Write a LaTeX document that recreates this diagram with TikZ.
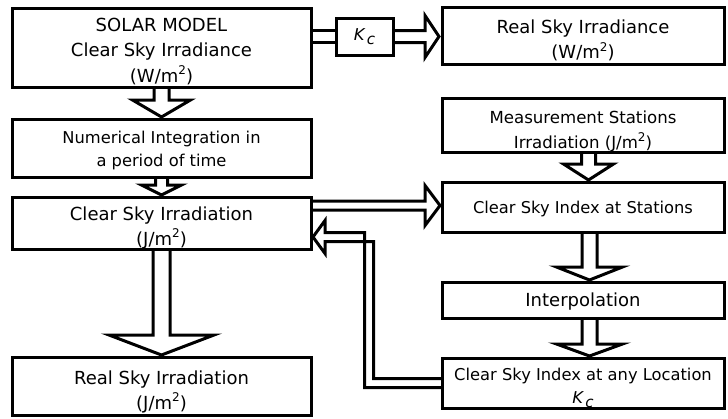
\documentclass[tikz,border=0pt]{standalone}
\usepackage{fontspec}
\setmainfont{DejaVu Sans}
\usetikzlibrary{calc}
\newcommand\kcsym{\textit{K}\kern1.2pt\raisebox{-0.25em}{\fontsize{15}{15}\selectfont\itshape c}}
\newcommand\sqm{m\raisebox{0.42em}{\fontsize{12}{12}\selectfont 2}}
\newcommand\darrow[6]{% from, to, xoff, shaft half, head half, head length
  \draw[harrow] ($(#1.south)+({#3-#4},0)$) -- ($(#2.north)+({#3-#4},{-#6-2})$)
    -- ($(#2.north)+({#3-#5},{-#6-2})$) -- ($(#2.north)+(#3,-2)$)
    -- ($(#2.north)+({#3+#5},{-#6-2})$) -- ($(#2.north)+({#3+#4},{-#6-2})$)
    -- ($(#1.south)+({#3+#4},0)$);}
\begin{document}
\begin{tikzpicture}[x=1pt,y=-1pt,
  box/.style={draw,line width=3pt,inner sep=0pt,outer sep=0pt},
  txt/.style={align=center,inner sep=0pt},
  big/.style={font=\fontsize{18}{25}\selectfont},
  small/.style={font=\fontsize{16.3}{23}\selectfont},
  harrow/.style={draw,line width=3pt,line join=miter}]
\useasboundingbox (0,0) rectangle (728,418);
% left column
\node[box,minimum width=299pt,minimum height=79pt] (A) at (161.5,47.5) {};
\node[txt,font=\fontsize{18}{25.5}\selectfont] (At) at ($(A)+(0,4)$) {SOLAR MODEL\\Clear Sky Irradiance\\(W/\sqm)};
\node[box,minimum width=299pt,minimum height=58pt] (C) at (161.5,148) {};
\node[txt,small] (Ct) at ($(C)+(0,2.5)$) {Numerical Integration in\\a period of time};
\node[box,minimum width=299pt,minimum height=52pt] (D) at (161.5,223) {};
\node[txt,big] (Dt) at ($(D)+(0,4.5)$) {Clear Sky Irradiation\\(J/\sqm)};
\node[box,minimum width=299pt,minimum height=58pt] (E) at (161.5,386) {};
\node[txt,big] (Et) at ($(E)+(0,6)$) {Real Sky Irradiation\\(J/\sqm)};
% middle
\node[box,minimum width=57pt,minimum height=37pt,font=\fontsize{16.3}{20}\selectfont] (Kc) at (364.5,36.5) {\kcsym};
% right column
\node[box,minimum width=282pt,minimum height=57pt] (B) at (583,35.5) {};
\node[txt,big] (Bt) at ($(B)+(0,5)$) {Real Sky Irradiance\\(W/\sqm)};
\node[box,minimum width=282pt,minimum height=54pt] (F) at (583,125) {};
\node[txt,font=\fontsize{16.6}{25}\selectfont] (Ft) at ($(F)+(0,6)$) {Measurement Stations\\Irradiation (J/\sqm)};
\node[box,minimum width=282pt,minimum height=50pt] (G) at (583,207) {};
\node[txt,small] (Gt) at ($(G)+(0,1.5)$) {Clear Sky Index at Stations};
\node[box,minimum width=282pt,minimum height=36pt] (H) at (583,300) {};
\node[txt,big] (Ht) at ($(H)+(0,2)$) {Interpolation};
\node[box,minimum width=282pt,minimum height=50pt] (I) at (583,383) {};
\node[txt,small] (It) at ($(I)+(0,4.5)$) {Clear Sky Index at any Location\\\kcsym};
% vertical arrows
\darrow{A}{C}{0}{7.5}{29}{17}
\darrow{C}{D}{0}{6}{20}{10}
\darrow{D}{E}{0}{8.5}{52.5}{20}
\darrow{F}{G}{5.5}{7}{25}{16}
\darrow{G}{H}{6.5}{7.5}{33}{13}
\darrow{H}{I}{6.5}{7.5}{33}{12}
% A -> Kc -> B
\coordinate (ku) at ($(Kc.west)+(0,-6)$);
\coordinate (kd) at ($(Kc.west)+(0,6)$);
\draw[harrow] (A.east |- ku) -- (ku);
\draw[harrow] (A.east |- kd) -- (kd);
\coordinate (kb) at (B.west |- Kc.east);
\draw[harrow] ($(Kc.east)+(0,-6)$) -- ($(kb)+(-17,-6)$) -- ($(kb)+(-17,-21)$)
  -- ($(kb)+(-3,0)$) -- ($(kb)+(-17,21)$) -- ($(kb)+(-17,6)$) -- ($(Kc.east)+(0,6)$);
% D -> G
\coordinate (dg) at ($(D.east)+(0,-17.5)$);
\coordinate (gd) at (G.west |- dg);
\draw[harrow] ($(dg)+(0,-4.5)$) -- ($(gd)+(-17,-4.5)$) -- ($(gd)+(-17,-20)$)
  -- ($(gd)+(-2,0)$) -- ($(gd)+(-17,20)$) -- ($(gd)+(-17,4.5)$) -- ($(dg)+(0,4.5)$);
% I -> D (return)
\coordinate (dr) at ($(D.east)+(0,14)$);
\coordinate (corner) at ($(I.west)+(-73,0)$);
\coordinate (cd) at (corner |- dr);
\draw[harrow] ($(I.west)+(0,4.5)$) -- ($(corner)+(-4.5,4.5)$) -- ($(cd)+(-4.5,-4.5)$)
  -- ($(dr)+(14,-4.5)$) -- ($(dr)+(14,-16.5)$) -- ($(dr)+(2,0)$) -- ($(dr)+(14,16.5)$)
  -- ($(dr)+(14,4.5)$) -- ($(cd)+(4.5,4.5)$) -- ($(corner)+(4.5,-4.5)$) -- ($(I.west)+(0,-4.5)$);
\end{tikzpicture}
\end{document}
